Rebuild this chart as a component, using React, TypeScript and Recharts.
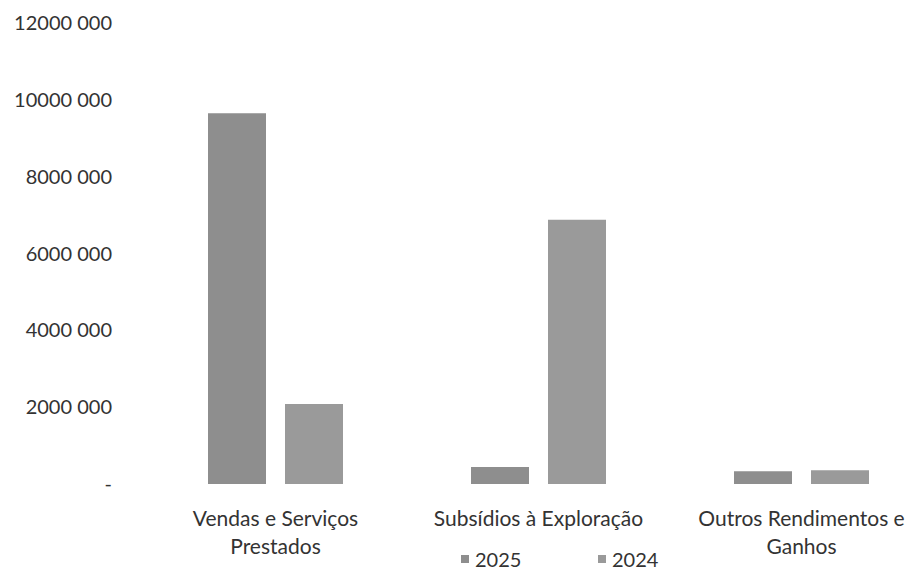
import React from "react";
import { BarChart, Bar, XAxis, YAxis, Legend } from "recharts";

const categories = [
  "Vendas e Serviços Prestados",
  "Subsídios à Exploração",
  "Outros Rendimentos e Ganhos",
];
const seriesNames = ["2025", "2024"];
const values2025 = [9650000, 440000, 330000];
const values2024 = [2080000, 6880000, 360000];
const yTicks = [0, 2000000, 4000000, 6000000, 8000000, 10000000, 12000000];
const yTickLabels = ["-", "2000 000", "4000 000", "6000 000", "8000 000", "10000 000", "12000 000"];

const data = categories.map((name, i) => ({
  name,
  y2025: values2025[i],
  y2024: values2024[i],
}));

const FONT = "Lato, 'Open Sans', sans-serif";
const TEXT = "#333333";

// greedy word wrap, like Excel does for long category names
function wrap(label: string, maxChars: number) {
  const lines: string[] = [];
  let cur = "";
  for (const w of label.split(" ")) {
    const next = cur ? cur + " " + w : w;
    if (next.length > maxChars && cur) {
      lines.push(cur);
      cur = w;
    } else {
      cur = next;
    }
  }
  if (cur) lines.push(cur);
  return lines;
}

function CategoryTick(props: any) {
  const { x, y, payload } = props;
  const lines = wrap(payload.value, 22);
  return (
    <text
      x={x}
      y={y}
      textAnchor="middle"
      fill={TEXT}
      fontFamily={FONT}
      fontSize={21}
    >
      {lines.map((l, i) => (
        <tspan key={i} x={x} dy={i === 0 ? 16 : 28}>
          {l}
        </tspan>
      ))}
    </text>
  );
}

function LegendContent(props: any) {
  const items = [...(props.payload || [])].sort(
    (a: any, b: any) => seriesNames.indexOf(a.value) - seriesNames.indexOf(b.value)
  );
  return (
    <div style={{ display: "flex", fontFamily: FONT, fontSize: 20, lineHeight: "22px", color: TEXT }}>
      {items.map((p: any) => (
        <div key={p.value} style={{ display: "flex", alignItems: "center", width: 137 }}>
          <span style={{ width: 8, height: 8, background: p.color, marginRight: 6 }} />
          <span>{p.value}</span>
        </div>
      ))}
    </div>
  );
}

export default function App() {
  return (
    <div
      style={{
        position: "absolute",
        left: 0,
        top: 0,
        width: 915,
        height: 571,
        overflow: "hidden",
        background: "#fff",
      }}
    >
      <BarChart
        width={940}
        height={571}
        data={data}
        margin={{ top: 23, right: 7, bottom: 35, left: 0 }}
        barSize={58}
        barGap={19}
      >
        <YAxis
          width={144}
          domain={[0, 12000000]}
          ticks={yTicks}
          interval={0}
          axisLine={false}
          tickLine={false}
          tickSize={0}
          tickMargin={32}
          tickFormatter={(v: number) => yTickLabels[yTicks.indexOf(v)]}
          tick={{ fill: TEXT, fontFamily: FONT, fontSize: 20 }}
        />
        <XAxis
          dataKey="name"
          axisLine={false}
          tickLine={false}
          tickSize={0}
          tickMargin={26}
          interval={0}
          tick={<CategoryTick />}
        />
        <Legend
          verticalAlign="bottom"
          content={<LegendContent />}
          wrapperStyle={{ left: 461, top: 548, width: 300 }}
        />
        <Bar dataKey="y2025" name="2025" fill="#8e8e8e" isAnimationActive={false} />
        <Bar dataKey="y2024" name="2024" fill="#9a9a9a" isAnimationActive={false} />
      </BarChart>
    </div>
  );
}
